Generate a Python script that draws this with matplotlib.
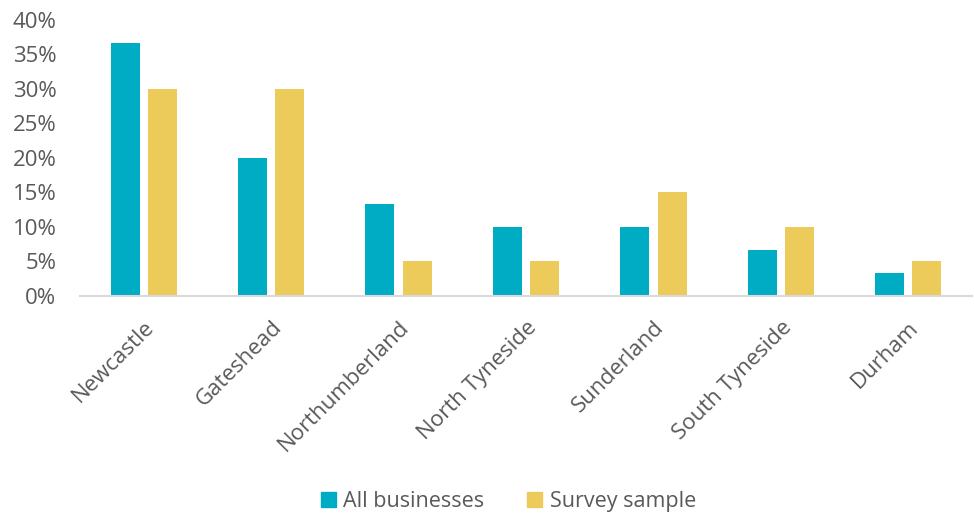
import matplotlib
matplotlib.use("Agg")
import matplotlib.pyplot as plt
import numpy as np
from matplotlib.patches import Patch

plt.rcParams['font.family'] = ['Open Sans', 'DejaVu Sans']

categories = ["Newcastle", "Gateshead", "Northumberland", "North Tyneside",
              "Sunderland", "South Tyneside", "Durham"]
all_businesses = [36.7, 20.0, 13.3, 10.0, 10.0, 6.7, 3.3]
survey_sample = [30.0, 30.0, 5.0, 5.0, 15.0, 10.0, 5.0]
y_ticks = [0, 5, 10, 15, 20, 25, 30, 35, 40]

BLUE = "#00ACC4"
YELLOW = "#ECCB5A"
TEXT = "#595959"

fig = plt.figure(figsize=(9.74, 5.18), dpi=100)
ax = fig.add_axes([0.0821, 0.4286, 0.9159, 0.5328])

x = np.arange(len(categories))
w = 0.228
off = 0.146
ax.bar(x - off, all_businesses, w, color=BLUE)
ax.bar(x + off, survey_sample, w, color=YELLOW)

ax.set_xlim(-0.5, len(categories) - 0.5)
ax.set_ylim(0, 40)
ax.set_yticks(y_ticks)
ax.set_yticklabels([f"{t}%" for t in y_ticks])
ax.set_xticks(x)
ax.set_xticklabels(categories, rotation=45, ha="right", rotation_mode="anchor")
ax.tick_params(axis="both", length=0, labelsize=16, colors=TEXT)
ax.tick_params(axis="y", pad=17)
ax.tick_params(axis="x", pad=15)

for s in ["top", "right", "left"]:
    ax.spines[s].set_visible(False)
ax.spines["bottom"].set_color("#D9D9D9")
ax.spines["bottom"].set_linewidth(1.5)

handles = [Patch(color=BLUE, label="All businesses"),
           Patch(color=YELLOW, label="Survey sample")]
fig.legend(handles=handles, loc="center", bbox_to_anchor=(0.522, 0.031), ncol=2,
           frameon=False, fontsize=15.5, labelcolor=TEXT, handlelength=0.7,
           handleheight=0.7, handletextpad=0.35, columnspacing=2.0)

fig.savefig("out.png", dpi=100)
